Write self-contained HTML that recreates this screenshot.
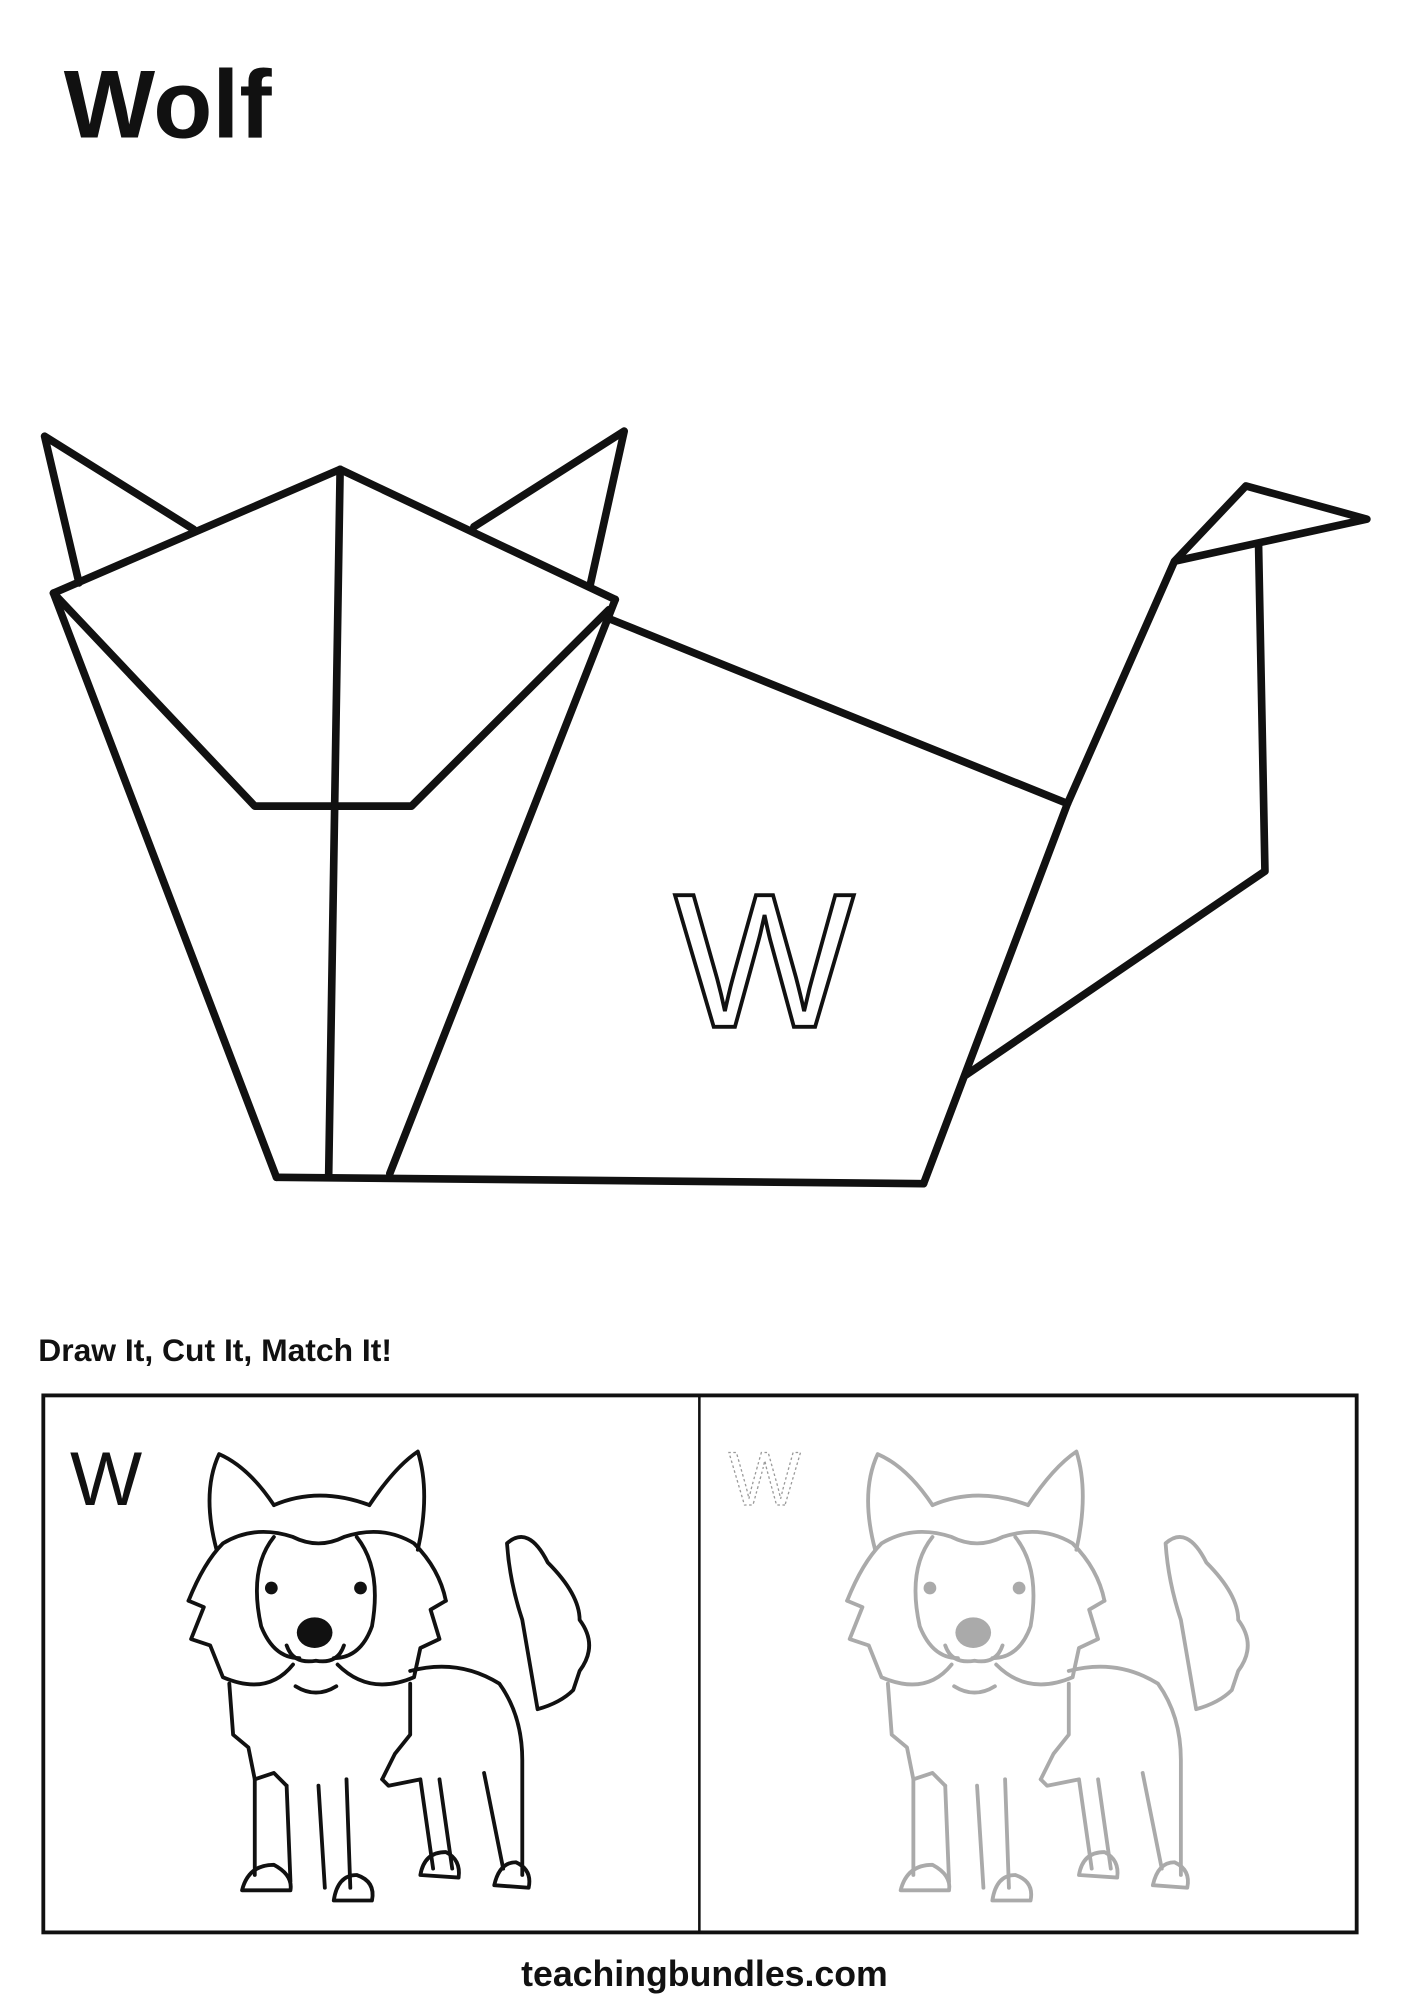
<!DOCTYPE html>
<html><head><meta charset="utf-8"><style>
html,body{margin:0;padding:0;background:#fff;}
svg{display:block}
</style></head><body>
<svg width="1414" height="2000" viewBox="0 0 1110 1568" preserveAspectRatio="none" xmlns="http://www.w3.org/2000/svg">
<rect width="1110" height="1568" fill="#fff"/>
<text x="50" y="108" font-family="Liberation Sans, sans-serif" font-weight="bold" font-size="76" fill="#111">Wolf</text>
<g fill="none" stroke="#111" stroke-width="6" stroke-linejoin="round" stroke-linecap="round">
<polyline points="62,457 35,342 152,415"/>
<polyline points="372,413 490,338 463,460"/>
<polyline points="42,465 267,368 483,470"/>
<polyline points="42,465 200,632 323,632 478,478"/>
<line x1="267" y1="368" x2="258" y2="922"/>
<line x1="42" y1="465" x2="217" y2="923"/>
<line x1="483" y1="470" x2="306" y2="920"/>
<line x1="217" y1="923" x2="725" y2="928"/>
<line x1="478" y1="485" x2="838" y2="630"/>
<polyline points="725,928 838,630 922,440 978,381 1073,407 922,440"/>
<polyline points="988,428 993,683 758,843"/>
</g>
<text x="600" y="805" text-anchor="middle" font-family="Liberation Sans, sans-serif" font-size="150" fill="#fff" stroke="#111" stroke-width="3">W</text>
<text x="30" y="1067" font-family="Liberation Sans, sans-serif" font-weight="bold" font-size="25" fill="#111">Draw It, Cut It, Match It!</text>
<rect x="34" y="1094" width="1031" height="421" fill="none" stroke="#111" stroke-width="3"/>
<line x1="549" y1="1094" x2="549" y2="1515" stroke="#111" stroke-width="2"/>
<text x="55" y="1180" font-family="Liberation Sans, sans-serif" font-size="60" fill="#111">W</text>
<text x="572" y="1180" font-family="Liberation Sans, sans-serif" font-size="60" fill="none" stroke="#999" stroke-width="1" stroke-dasharray="2,2">W</text>
<defs>
<g id="wolf" fill="none" stroke-width="3" stroke-linejoin="round" stroke-linecap="round">
<path d="M170,1215 Q158,1170 172,1140 Q195,1150 215,1180"/>
<path d="M290,1180 Q310,1150 328,1138 Q338,1170 328,1215"/>
<path d="M215,1180 Q250,1165 290,1180"/>
<path d="M148,1255 Q160,1225 175,1210 Q200,1195 230,1205 Q250,1215 270,1205 Q300,1195 325,1210 Q345,1230 350,1255"/>
<path d="M148,1255 L160,1260 L150,1285 L165,1290 L175,1315 Q210,1330 230,1305"/>
<path d="M350,1255 L338,1262 L345,1285 L330,1292 L325,1315 Q290,1330 265,1305"/>
<path d="M215,1205 Q195,1230 205,1275 Q215,1300 235,1300"/>
<path d="M280,1205 Q300,1230 292,1275 Q283,1300 262,1300"/>
<path d="M225,1290 Q230,1305 248,1302 Q265,1305 270,1290"/>
<path d="M232,1322 Q248,1332 264,1322"/>
<path d="M180,1320 L183,1360 L195,1370 L200,1395 L215,1390 L225,1400"/>
<path d="M322,1310 Q360,1300 392,1320 Q410,1345 410,1380 L410,1470"/>
<path d="M322,1320 L322,1360 L310,1375 L300,1395"/>
<path d="M200,1395 L200,1470 M225,1400 L228,1475 M250,1400 L255,1480 M272,1395 L275,1480 M300,1395 L305,1400 L330,1395 L340,1465 M345,1395 L355,1465 M380,1390 L395,1465"/>
<path d="M190,1482 Q195,1462 215,1462 Q230,1470 228,1482 Z"/>
<path d="M262,1490 Q265,1470 280,1470 Q295,1475 292,1490 Z"/>
<path d="M330,1470 Q333,1452 350,1452 Q362,1458 360,1472 Z"/>
<path d="M388,1478 Q392,1460 405,1460 Q418,1466 415,1480 Z"/>
<path d="M398,1210 Q415,1195 430,1225 Q455,1250 455,1270 Q470,1290 455,1310 L450,1325 Q440,1335 422,1340 Q415,1300 410,1270 Q400,1240 398,1210 Z"/>
</g>
</defs>
<use href="#wolf" stroke="#111"/>
<circle cx="213" cy="1245" r="5" fill="#111"/>
<circle cx="283" cy="1245" r="5" fill="#111"/>
<ellipse cx="247" cy="1280" rx="14" ry="12" fill="#111"/>
<g transform="translate(517,0)">
<use href="#wolf" stroke="#aaa"/>
<circle cx="213" cy="1245" r="5" fill="#aaa"/>
<circle cx="283" cy="1245" r="5" fill="#aaa"/>
<ellipse cx="247" cy="1280" rx="14" ry="12" fill="#aaa"/>
</g>
<text x="553" y="1557" text-anchor="middle" font-family="Liberation Sans, sans-serif" font-weight="bold" font-size="28" fill="#111">teachingbundles.com</text>
</svg>
</body></html>
